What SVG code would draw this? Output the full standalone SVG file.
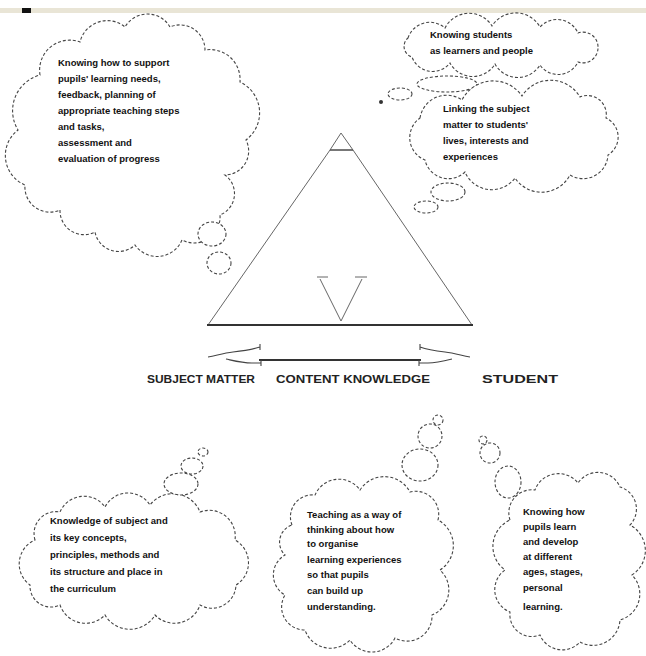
<svg xmlns="http://www.w3.org/2000/svg" width="646" height="656" viewBox="0 0 646 656">
<style>
.cloud{fill:#fff;stroke:#444;stroke-width:1.1;stroke-dasharray:3 2}
.t{font-family:"Liberation Sans",Arial,sans-serif;font-size:9.5px;font-weight:bold;fill:#111}
.lbl{font-family:"Liberation Sans",Arial,sans-serif;font-size:10px;font-weight:bold;fill:#222}
.edge{fill:none;stroke:#333;stroke-width:2}
.side{fill:none;stroke:#666;stroke-width:1}
.head{fill:none;stroke:#444;stroke-width:1.1}
</style>
<rect width="646" height="656" fill="#fff"/>
<rect x="0" y="8" width="646" height="5" fill="#e9e5d6"/>
<rect x="22" y="8" width="9" height="5" fill="#111"/>

<g id="cloud-top-left">
<path class="cloud" d="M40,75 A30,30 0 0 1 80,42 A28,28 0 0 1 125,27 A26,26 0 0 1 170,27 A25,25 0 0 1 205,50 A30,30 0 0 1 240,82 A34,34 0 0 1 246,140 A24,24 0 0 1 225,175 A23,23 0 0 1 220,215 A26,26 0 0 1 182,240 A27,27 0 0 1 135,245 A24,24 0 0 1 95,232 A24,24 0 0 1 60,210 A25,25 0 0 1 25,185 A32,32 0 0 1 18,130 A37,37 0 0 1 40,75 Z"/>
<ellipse class="cloud" cx="212" cy="234" rx="14" ry="12"/>
<ellipse class="cloud" cx="219" cy="263" rx="12" ry="11"/>
<text class="t" x="58" y="66">Knowing how to support</text>
<text class="t" x="58" y="82">pupils' learning needs,</text>
<text class="t" x="58" y="98">feedback, planning of</text>
<text class="t" x="58" y="114">appropriate teaching steps</text>
<text class="t" x="58" y="130">and tasks,</text>
<text class="t" x="58" y="146">assessment and</text>
<text class="t" x="58" y="162">evaluation of progress</text>
</g>

<g id="cloud-top-right-1">
<path class="cloud" d="M408,38 A23,23 0 0 1 445,28 A27,27 0 0 1 492,26 A28,28 0 0 1 540,27 A23,23 0 0 1 578,33 A15,15 0 0 1 598,48 A15,15 0 0 1 578,62 A22,22 0 0 1 540,65 A26,26 0 0 1 495,64 A26,26 0 0 1 450,63 A22,22 0 0 1 412,57 A11,11 0 0 1 408,38 Z"/>
<ellipse class="cloud" cx="447" cy="84" rx="30" ry="8"/>
<ellipse class="cloud" cx="400" cy="94" rx="12" ry="6"/>
<circle cx="381" cy="102" r="2" fill="#333"/>
<text class="t" x="430" y="38">Knowing students</text>
<text class="t" x="430" y="54">as learners and people</text>
</g>

<g id="cloud-top-right-2">
<path class="cloud" d="M420,118 A27,27 0 0 1 462,100 A35,35 0 0 1 522,96 A34,34 0 0 1 580,97 A19,19 0 0 1 606,118 A21,21 0 0 1 608,155 A25,25 0 0 1 570,175 A32,32 0 0 1 515,178 A29,29 0 0 1 465,172 A24,24 0 0 1 425,160 A24,24 0 0 1 420,118 Z"/>
<ellipse class="cloud" cx="448" cy="192" rx="17" ry="9"/>
<ellipse class="cloud" cx="426" cy="207" rx="12" ry="6"/>
<text class="t" x="443" y="112">Linking the subject</text>
<text class="t" x="443" y="128">matter to students'</text>
<text class="t" x="443" y="144">lives, interests and</text>
<text class="t" x="443" y="160">experiences</text>
</g>

<g id="triangle">
<path class="side" d="M208,325 L330,150 L341,133 L353,150 L472,325"/>
<line x1="330" y1="150" x2="353" y2="150" stroke="#555" stroke-width="1.6"/>
<line class="edge" x1="207" y1="325" x2="473" y2="325"/>
<path class="side" d="M317,277 H328 M355,277 H367 M320,279 L341,321 L362,279"/>
</g>

<g id="connectors">
<line class="edge" x1="259" y1="360" x2="421" y2="360"/>
<path class="head" d="M208,357 C218,355 224,353 233,352 C242,351 250,350 260,347 M260,344 V350 M226,359 C235,361 242,363 252,363 L261,363 M261,360 V366"/>
<path class="head" d="M470,357 C460,355 454,353 445,352 C436,351 428,350 420,347 M420,344 V350 M452,359 C444,361 436,363 428,363 L419,363 M419,360 V366"/>
</g>

<g id="labels">
<text class="lbl" x="147" y="383" textLength="108" lengthAdjust="spacingAndGlyphs">SUBJECT MATTER</text>
<text class="lbl" x="276" y="383" textLength="154" lengthAdjust="spacingAndGlyphs" fill="#555">CONTENT KNOWLEDGE</text>
<text class="lbl" x="482" y="383" textLength="76" lengthAdjust="spacingAndGlyphs">STUDENT</text>
</g>

<g id="cloud-bottom-left">
<path class="cloud" d="M35,540 A22,22 0 0 1 60,512 A26,26 0 0 1 105,507 A26,26 0 0 1 150,505 A29,29 0 0 1 200,512 A26,26 0 0 1 235,540 A26,26 0 0 1 236,585 A24,24 0 0 1 200,605 A27,27 0 0 1 155,615 A29,29 0 0 1 105,615 A27,27 0 0 1 60,605 A21,21 0 0 1 30,585 A26,26 0 0 1 35,540 Z"/>
<ellipse class="cloud" cx="181" cy="484" rx="17" ry="11"/>
<ellipse class="cloud" cx="192" cy="466" rx="11" ry="8"/>
<ellipse class="cloud" cx="203" cy="452" rx="5" ry="4"/>
<text class="t" x="50" y="524">Knowledge of subject and</text>
<text class="t" x="50" y="541">its key concepts,</text>
<text class="t" x="50" y="558">principles, methods and</text>
<text class="t" x="50" y="575">its structure and place in</text>
<text class="t" x="50" y="592">the curriculum</text>
</g>

<g id="cloud-bottom-middle">
<path class="cloud" d="M292,525 A22,22 0 0 1 315,495 A26,26 0 0 1 360,490 A29,29 0 0 1 410,492 A23,23 0 0 1 438,520 A29,29 0 0 1 440,570 A27,27 0 0 1 432,615 A25,25 0 0 1 395,638 A26,26 0 0 1 350,640 A27,27 0 0 1 305,630 A23,23 0 0 1 285,595 A23,23 0 0 1 285,555 A18,18 0 0 1 292,525 Z"/>
<ellipse class="cloud" cx="420" cy="465" rx="18" ry="16"/>
<ellipse class="cloud" cx="430" cy="436" rx="12" ry="12"/>
<ellipse class="cloud" cx="438" cy="420" rx="5" ry="5"/>
<text class="t" x="307" y="518">Teaching as a way of</text>
<text class="t" x="307" y="533">thinking about how</text>
<text class="t" x="307" y="547">to organise</text>
<text class="t" x="307" y="563">learning experiences</text>
<text class="t" x="307" y="578">so that pupils</text>
<text class="t" x="307" y="594">can build up</text>
<text class="t" x="307" y="610">understanding.</text>
</g>

<g id="cloud-bottom-right">
<path class="cloud" d="M510,520 A23,23 0 0 1 535,490 A25,25 0 0 1 578,483 A24,24 0 0 1 620,487 A23,23 0 0 1 630,525 A29,29 0 0 1 632,575 A27,27 0 0 1 620,620 A27,27 0 0 1 580,642 A24,24 0 0 1 540,635 A22,22 0 0 1 510,612 A24,24 0 0 1 505,570 A29,29 0 0 1 510,520 Z"/>
<ellipse class="cloud" cx="508" cy="482" rx="13" ry="16"/>
<ellipse class="cloud" cx="490" cy="453" rx="10" ry="10"/>
<ellipse class="cloud" cx="483" cy="440" rx="4" ry="4"/>
<text class="t" x="523" y="515">Knowing how</text>
<text class="t" x="523" y="530">pupils learn</text>
<text class="t" x="523" y="545">and develop</text>
<text class="t" x="523" y="560">at different</text>
<text class="t" x="523" y="575">ages, stages,</text>
<text class="t" x="523" y="591">personal</text>
<text class="t" x="523" y="610">learning.</text>
</g>
</svg>
